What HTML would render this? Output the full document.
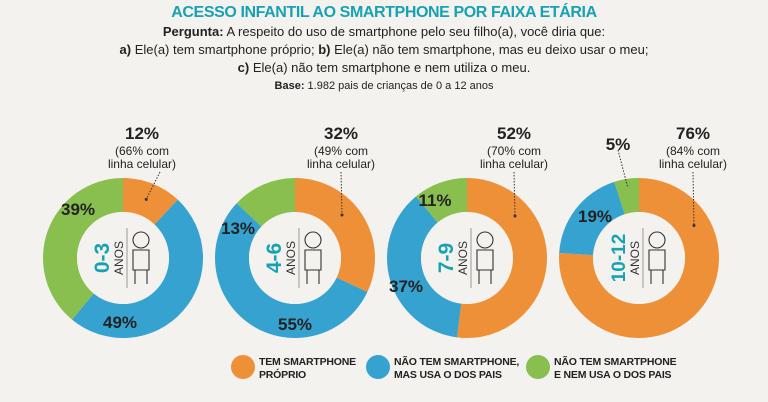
<!DOCTYPE html>
<html><head><meta charset="utf-8"><style>
body{margin:0;width:768px;height:402px;background:#f3f2ee;overflow:hidden;font-family:"Liberation Sans",sans-serif;}
.t{position:absolute;left:0;width:768px;text-align:center;color:#222;}
</style></head><body>
<div class="t" style="top:4px;font-size:16px;font-weight:bold;color:#17a2b4;letter-spacing:-0.4px">ACESSO INFANTIL AO SMARTPHONE POR FAIXA ETÁRIA</div>
<div class="t" style="top:24px;font-size:13px"><b>Pergunta:</b> A respeito do uso de smartphone pelo seu filho(a), você diria que:</div>
<div class="t" style="top:42px;font-size:13px"><b>a)</b> Ele(a) tem smartphone próprio; <b>b)</b> Ele(a) não tem smartphone, mas eu deixo usar o meu;</div>
<div class="t" style="top:60px;font-size:13px"><b>c)</b> Ele(a) não tem smartphone e nem utiliza o meu.</div>
<div class="t" style="top:80px;font-size:11px"><b>Base:</b> 1.982 pais de crianças de 0 a 12 anos</div>
<svg id="c" width="768" height="402" style="position:absolute;left:0;top:0"></svg>
<script>
const groups=["0-3","4-6","7-9","10-12"];
const own=[12,32,52,76];
const parents=[49,55,37,19];
const none=[39,13,11,5];
const lineShare=[66,49,70,84];
const colors=["#ee9038","#36a2d0","#88bf4e"];
const cx=[123,295,467,639], cy=258, R=80, r=46;
// label layout (not data): offsets for blue and green labels
const blueLbl=[[-3,64],[0,66],[-61,28],[-44,-42]];
const greenLbl=[[-45,-49],[-57,-30],[-32,-58],[-21,-114]];
const ownLblX=[142,341,514,693];
const S="http://www.w3.org/2000/svg", svg=document.getElementById('c');
function mk(t,a,p){const e=document.createElementNS(S,t);for(const k in a)e.setAttribute(k,a[k]);(p||svg).appendChild(e);return e;}
function pt(x,y,rad,f){const a=f*2*Math.PI;return [x+rad*Math.sin(a),y-rad*Math.cos(a)];}
function arc(x,f0,f1){const lg=(f1-f0)>0.5?1:0;const a=pt(x,cy,R,f0),b=pt(x,cy,R,f1),c=pt(x,cy,r,f1),d=pt(x,cy,r,f0);
return `M${a}A${R},${R} 0 ${lg} 1 ${b}L${c}A${r},${r} 0 ${lg} 0 ${d}Z`;}
groups.forEach((g,i)=>{
  const vals=[own[i],parents[i],none[i]], tot=vals.reduce((a,b)=>a+b,0);
  let acc=0;
  vals.forEach((v,j)=>{const f0=acc/tot,f1=(acc+v)/tot;acc+=v;
    const p=mk('path',{d:arc(cx[i],f0,f1),fill:colors[j]});
    
    });
  mk('circle',{cx:cx[i],cy:cy,r:r,fill:'#f3f2ee'});
  const tg=mk('g',{transform:`translate(${cx[i]-14},${cy}) rotate(-90)`});
  
  
  mk('text',{x:0,y:0,'text-anchor':'middle','font-size':g.length>3?19:21,'font-weight':'bold',fill:'#17a2b4','font-family':'Liberation Sans'},tg).textContent=g;
  mk('text',{x:0,y:14,'text-anchor':'middle','font-size':12,fill:'#333','font-family':'Liberation Sans'},tg).textContent='ANOS';
  mk('line',{x1:cx[i]+4,y1:cy-30,x2:cx[i]+4,y2:cy+30,stroke:'#999','stroke-width':1});
  const ig=mk('g',{fill:'none',stroke:'#333','stroke-width':1.1});
  
  
  mk('circle',{cx:cx[i]+18,cy:cy-18,r:8},ig);
  mk('path',{d:`M${cx[i]+10},${cy-8}h16v20h-16z M${cx[i]+12},${cy+12}v14 M${cx[i]+24},${cy+12}v14`},ig);
  const lx=ownLblX[i];
  let ex,ey,sx;
  const rm=(R+r)/2;
  if(own[i]/tot<0.2){const m=pt(cx[i],cy,rm,own[i]/tot/2);ex=m[0];ey=m[1];sx=lx+18;}
  else{ex=lx+1;const dx=lx-cx[i];ey=cy-Math.sqrt(Math.max(0,rm*rm-dx*dx));sx=lx;}
  mk('path',{d:`M${sx},172L${ex},${ey}`,stroke:'#333','stroke-width':1,'stroke-dasharray':'1.5,1.5',fill:'none'});
  mk('circle',{cx:ex,cy:ey,r:1.5,fill:'#333'});
  const t1=mk('text',{x:lx,y:139,'text-anchor':'middle','font-size':17,'font-weight':'bold',fill:'#222','font-family':'Liberation Sans'});
  t1.textContent=own[i]+'%';
  
  
  mk('text',{x:lx,y:155,'text-anchor':'middle','font-size':12,fill:'#222','font-family':'Liberation Sans'}).textContent='('+lineShare[i]+'% com';
  mk('text',{x:lx,y:168,'text-anchor':'middle','font-size':12,fill:'#222','font-family':'Liberation Sans'}).textContent='linha celular)';
  const tb=mk('text',{x:cx[i]+blueLbl[i][0],y:cy+blueLbl[i][1]+6,'text-anchor':'middle','font-size':17,'font-weight':'bold',fill:'#222','font-family':'Liberation Sans'});
  tb.textContent=parents[i]+'%';
  
  
  const tgn=mk('text',{x:cx[i]+greenLbl[i][0],y:cy+greenLbl[i][1]+6,'text-anchor':'middle','font-size':17,'font-weight':'bold',fill:'#222','font-family':'Liberation Sans'});
  tgn.textContent=none[i]+'%';
  
  
  if(i==3){const gm=pt(cx[i],cy,(R+r)/2+8,1-none[i]/tot/2);mk('path',{d:`M618,150L${gm[0]},${gm[1]}`,stroke:'#333','stroke-dasharray':'1.5,1.5',fill:'none'});}
});
const legendText=[["TEM SMARTPHONE","PRÓPRIO"],["NÃO TEM SMARTPHONE,","MAS USA O DOS PAIS"],["NÃO TEM SMARTPHONE","E NEM USA O DOS PAIS"]];
const legX=[243,378,538];
legendText.forEach((l,j)=>{
  const g=mk('g',{});
  
  
  mk('circle',{cx:legX[j],cy:367,r:12,fill:colors[j]},g);
  l.forEach((s,k)=>{mk('text',{x:legX[j]+16,y:365+k*13,'font-size':10.5,'letter-spacing':-0.2,'font-weight':'bold',fill:'#222','font-family':'Liberation Sans'},g).textContent=s;});
});
</script>
</body></html>
